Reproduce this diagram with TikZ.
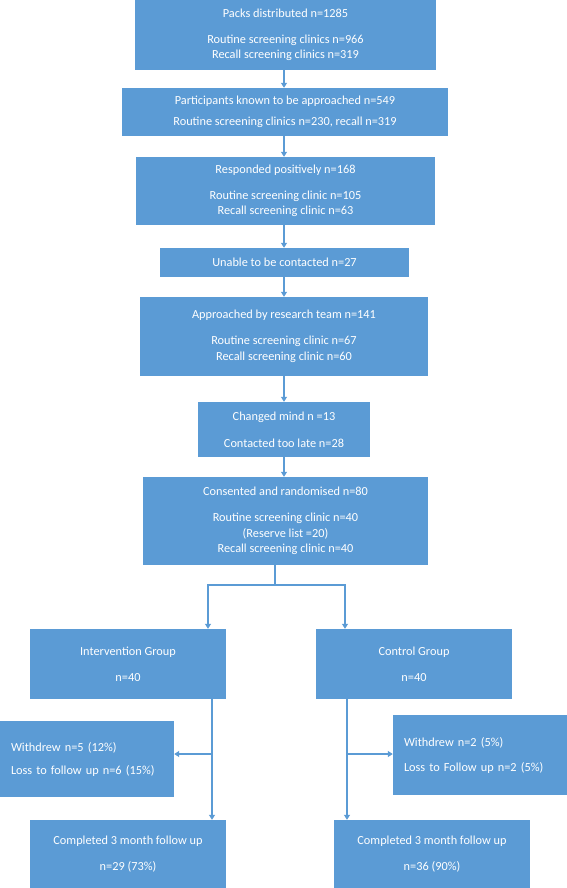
\documentclass[tikz,border=0pt]{standalone}
\usepackage{fontspec}
\setmainfont{Carlito}
\usetikzlibrary{arrows.meta,calc}
\definecolor{ob}{HTML}{5B9BD5}
\begin{document}
\begin{tikzpicture}[x=1pt,y=-1pt,
  box/.style={fill=ob, draw=none, text=white, inner sep=0pt, align=center,
    font=\fontsize{12.3}{15.5}\selectfont},
  lbox/.style={fill=ob, draw=none, text=white, inner ysep=0pt, inner xsep=11pt, align=left,
    font=\fontsize{12.3}{23}\selectfont},
  conn/.style={draw=ob, line width=1.1pt},
  arr/.style={conn, -{Triangle[length=5pt,width=6pt]}}]
\useasboundingbox (0,0) rectangle (567,888);
\node[box, minimum width=301pt, minimum height=70pt] (b1) at (285.5,35)
  {Packs distributed n=1285\\[10.5pt]Routine screening clinics n=966\\Recall screening clinics n=319};
\node[box, minimum width=326pt, minimum height=48pt, font=\fontsize{12.3}{21}\selectfont] (b2) at (285,112)
  {Participants known to be approached n=549\\Routine screening clinics n=230, recall n=319};
\node[box, minimum width=299pt, minimum height=68pt] (b3) at (285.5,191)
  {Responded positively n=168\\[10.5pt]Routine screening clinic n=105\\Recall screening clinic n=63};
\node[box, minimum width=249pt, minimum height=29pt] (b4) at (284.5,262.5)
  {Unable to be contacted n=27};
\node[box, minimum width=288pt, minimum height=79pt] (b5) at (284,336.5)
  {Approached by research team n=141\\[10.5pt]Routine screening clinic n=67\\Recall screening clinic n=60};
\node[box, minimum width=172pt, minimum height=55pt, font=\fontsize{12.3}{27}\selectfont] (b6) at (284,429.5)
  {Changed mind n =13\\Contacted too late n=28};
\node[box, minimum width=285pt, minimum height=88pt] (b7) at (285.5,521)
  {Consented and randomised n=80\\[10.5pt]Routine screening clinic n=40\\(Reserve list =20)\\Recall screening clinic n=40};
\node[box, minimum width=196pt, minimum height=70pt, font=\fontsize{12.3}{26}\selectfont] (ig) at (128,664)
  {Intervention Group\\n=40};
\node[box, minimum width=196pt, minimum height=70pt, font=\fontsize{12.3}{26}\selectfont] (cg) at (414,664)
  {Control Group\\n=40};
\node[lbox, minimum width=174pt, minimum height=76pt, text width=152pt] (wl) at (87,759)
  {Withdrew n=5 (12\%)\\Loss to follow up n=6 (15\%)};
\node[lbox, minimum width=174pt, minimum height=80pt, text width=152pt, font=\fontsize{12.3}{25}\selectfont] (wr) at (480,755)
  {Withdrew n=2 (5\%)\\Loss to Follow up n=2 (5\%)};
\node[box, minimum width=196pt, minimum height=68pt, font=\fontsize{12.3}{26}\selectfont] (cl) at (128,854)
  {Completed 3 month follow up\\n=29 (73\%)};
\node[box, minimum width=196pt, minimum height=68pt, font=\fontsize{12.3}{26}\selectfont] (cr) at (432,854)
  {Completed 3 month follow up\\n=36 (90\%)};
% connectors
\draw[arr] (b1.south -| 284,0) -- (b2.north -| 284,0);
\draw[arr] (b2.south -| 284,0) -- (b3.north -| 284,0);
\draw[arr] (b3.south -| 284,0) -- (b4.north -| 284,0);
\draw[arr] (b4.south -| 284,0) -- (b5.north -| 284,0);
\draw[arr] (b5.south -| 284,0) -- (b6.north -| 284,0);
\draw[arr] (b6.south -| 284,0) -- (b7.north -| 284,0);
\coordinate (sp) at (275,585);
\coordinate (sl) at (208,585);
\coordinate (sr) at (345,585);
\draw[conn] (b7.south -| sp) -- (sp);
\draw[arr] (sp) -- (sl) -- (ig.north -| sl);
\draw[arr] (sp) -- (sr) -- (cg.north -| sr);
\coordinate (il) at (212,754);
\coordinate (ir) at (347,754);
\draw[arr] (ig.south -| il) -- (cl.north -| il);
\draw[arr] (il) -- (wl.east |- il);
\draw[arr] (cg.south -| ir) -- (cr.north -| ir);
\draw[arr] (ir) -- (wr.west |- ir);
\end{tikzpicture}
\end{document}
